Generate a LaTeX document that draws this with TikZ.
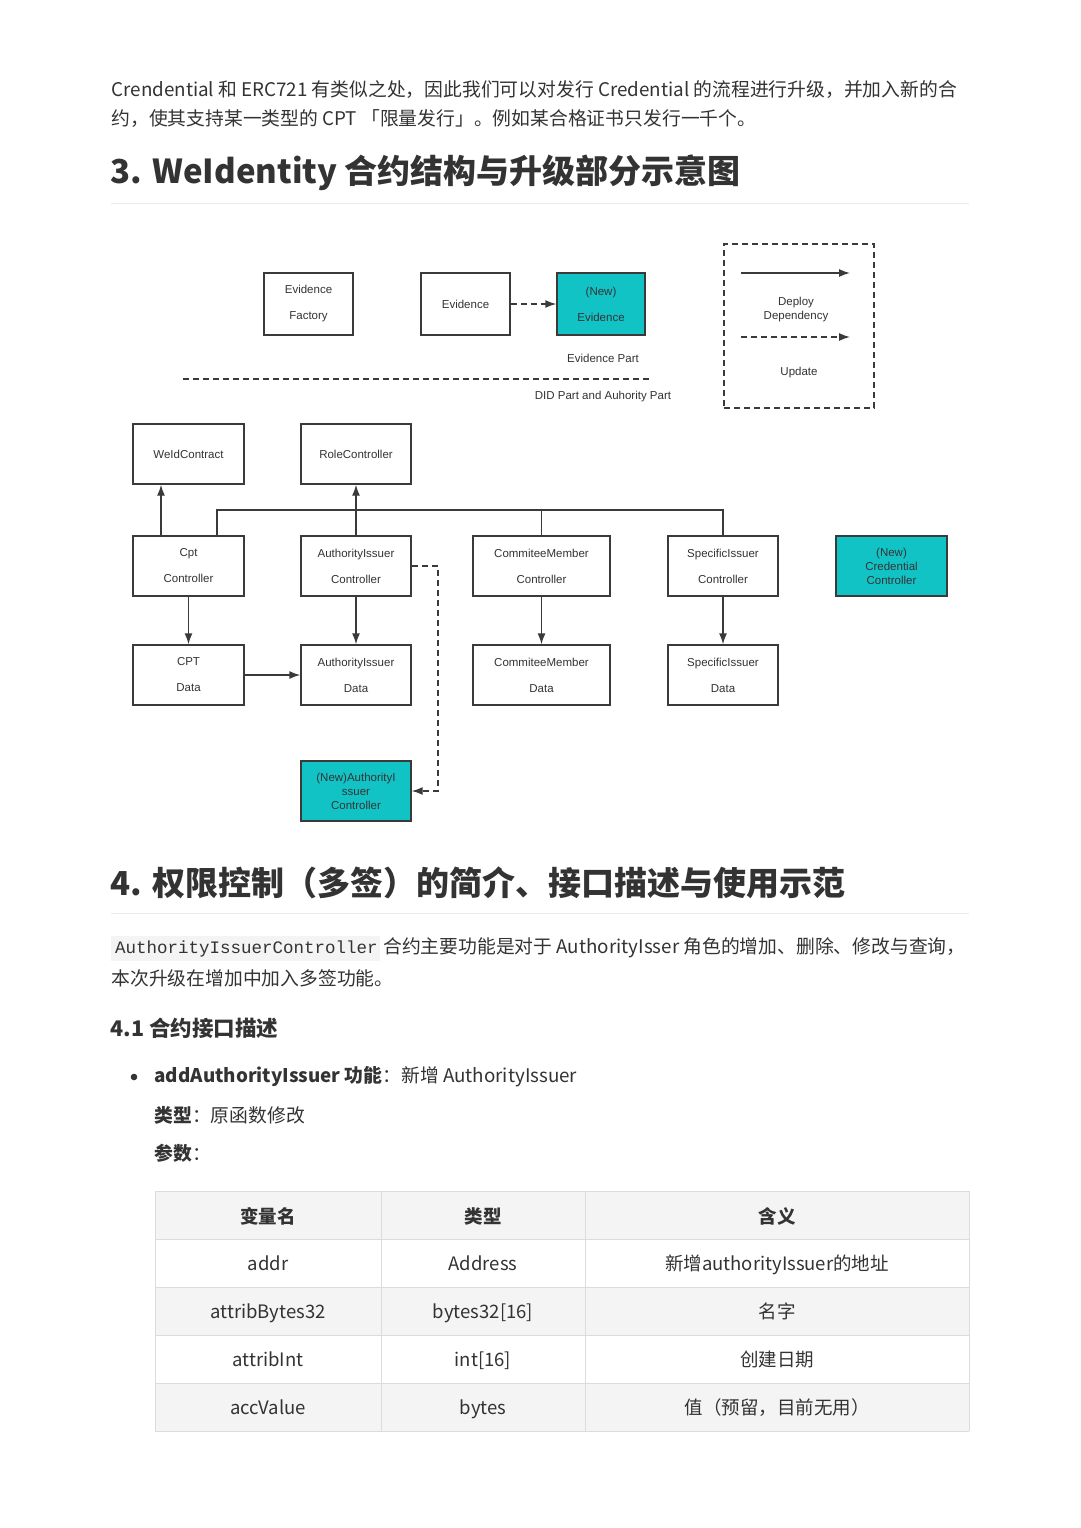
\documentclass[tikz,border=0pt]{standalone}
\usepackage{fontspec}
\setmainfont{Noto Sans CJK SC}
\newfontfamily\dg{Liberation Sans}
\newfontfamily\code{Liberation Mono}
\usetikzlibrary{arrows.meta}
\definecolor{txt}{HTML}{333333}
\definecolor{cy}{HTML}{12C3C6}
\definecolor{ln}{HTML}{3A3A3A}
\definecolor{rule}{HTML}{EAEAEA}
\definecolor{tb}{HTML}{DCDCDC}
\definecolor{sh}{HTML}{F4F4F4}
\begin{document}
\begin{tikzpicture}[x=1pt,y=-1pt,
  every node/.style={text=txt},
  body/.style={anchor=west,font=\fontsize{18.8}{20}\selectfont},
  box/.style={draw=ln,line width=1.4pt,inner sep=0pt,align=center,font=\dg\fontsize{11.5}{14}\selectfont},
  nb/.style={box,fill=cy},
  lab/.style={font=\dg\fontsize{11.5}{14}\selectfont},
  arr/.style={draw=ln,line width=1.4pt,-{Latex[length=11pt,width=8pt]}},
  dsh/.style={arr,dash pattern=on 6pt off 4pt},
  tc/.style={font=\fontsize{18.5}{20}\selectfont}]
\useasboundingbox (0,0) rectangle (1080,1528);
\fill[white] (0,0) rectangle (1080,1528);
% intro text
\node[body] (t1) at (108,90) {Crendential 和 ERC721 有类似之处，因此我们可以对发行 Credential 的流程进行升级，并加入新的合};
\node[body] (t2) at (108,119) {约，使其支持某一类型的 CPT 「限量发行」。例如某合格证书只发行一千个。};
\node[anchor=west,font=\bfseries\fontsize{33}{34}\selectfont] (h3) at (107,173) {3. WeIdentity 合约结构与升级部分示意图};
\draw[rule,line width=1pt] (111,203) -- (969,203);
% diagram
\node[box,minimum width=89pt,minimum height=62pt] (ef) at (308.5,304) {Evidence\\[12pt]Factory};
\node[box,minimum width=89pt,minimum height=62pt] (ev) at (465.5,304) {Evidence};
\node[nb,minimum width=88pt,minimum height=62pt] (ne) at (601,304) {(New)\\[12pt]Evidence};
\draw[dsh] (ev) -- (ne);
\node[lab] (ep) at (603,358) {Evidence Part};
\coordinate (dl1) at (183,379); \coordinate (dl2) at (650,379);
\draw[ln,line width=1.4pt,dash pattern=on 6pt off 4pt] (dl1) -- (dl2);
\node[lab] (dp) at (603,397) {DID Part and Auhority Part};
\node[draw=ln,line width=1.4pt,dash pattern=on 6pt off 4pt,minimum width=150pt,minimum height=164pt,inner sep=0pt] (lg) at (799,326) {};
\coordinate (la1) at (741,273); \coordinate (la2) at (850,273);
\draw[arr] (la1) -- (la2);
\node[lab,align=center] (dd) at (796,310) {Deploy\\Dependency};
\coordinate (lb1) at (741,337); \coordinate (lb2) at (850,337);
\draw[dsh] (lb1) -- (lb2);
\node[lab] (up) at (799,373) {Update};
\node[box,minimum width=111pt,minimum height=60pt] (wc) at (188.5,454) {WeIdContract};
\node[box,minimum width=110pt,minimum height=60pt] (rc) at (356,454) {RoleController};
\node[box,minimum width=111pt,minimum height=60pt] (cc) at (188.5,566) {Cpt\\[12pt]Controller};
\node[box,minimum width=110pt,minimum height=60pt] (ac) at (356,566) {AuthorityIssuer\\[12pt]Controller};
\node[box,minimum width=137pt,minimum height=60pt] (mc) at (541.5,566) {CommiteeMember\\[12pt]Controller};
\node[box,minimum width=110pt,minimum height=60pt] (sc) at (723,566) {SpecificIssuer\\[12pt]Controller};
\node[nb,minimum width=111pt,minimum height=60pt] (nc) at (891.5,566) {(New)\\Credential\\Controller};
\node[box,minimum width=111pt,minimum height=60pt] (cd) at (188.5,675) {CPT\\[12pt]Data};
\node[box,minimum width=110pt,minimum height=60pt] (ad) at (356,675) {AuthorityIssuer\\[12pt]Data};
\node[box,minimum width=137pt,minimum height=60pt] (md) at (541.5,675) {CommiteeMember\\[12pt]Data};
\node[box,minimum width=110pt,minimum height=60pt] (sd) at (723,675) {SpecificIssuer\\[12pt]Data};
\node[nb,minimum width=110pt,minimum height=60pt] (na) at (356,791) {(New)AuthorityI\\ssuer\\Controller};
\draw[arr] (cc.north -| 161,0) -- (wc.south -| 161,0);
\draw[arr] (ac) -- (rc);
\draw[ln,line width=1.4pt] (cc.north -| 217,0) |- (sc.north |- 0,510) -- (sc.north);
\draw[ln,line width=1.4pt] (mc.north) -- (mc.north |- 0,510);
\draw[arr] (cc) -- (cd);
\draw[arr] (ac) -- (ad);
\draw[arr] (mc) -- (md);
\draw[arr] (sc) -- (sd);
\draw[arr] (cd) -- (ad);
\draw[dsh] (ac.east) -- (438,566) |- (na.east);
% section 4
\node[anchor=west,font=\bfseries\fontsize{33}{34}\selectfont] (h4) at (107,883) {4. 权限控制（多签）的简介、接口描述与使用示范};
\draw[rule,line width=1pt] (111,913) -- (969,913);
\fill[sh] (111,936) rectangle (380,961);
\node[anchor=west,font=\code\fontsize{17.5}{18}\selectfont,inner sep=0pt] (cd1) at (115,949) {AuthorityIssuerController};
\node[body,inner sep=0pt] (t3) at (383,948) {合约主要功能是对于 AuthorityIsser 角色的增加、删除、修改与查询，};
\node[body] (t4) at (108,978) {本次升级在增加中加入多签功能。};
\node[anchor=west,font=\bfseries\fontsize{21.5}{24}\selectfont] (h41) at (107,1028) {4.1 合约接口描述};
\fill[txt] (134,1077) circle (3.3pt);
\node[body] (b1) at (151,1077) {\textbf{addAuthorityIssuer 功能}：新增 AuthorityIssuer};
\node[body] (b2) at (151,1115) {\textbf{类型}：原函数修改};
\node[body] (b3) at (151,1153) {\textbf{参数}：};
% table
\fill[sh] (155,1191) rectangle (969,1239);
\fill[sh] (155,1287) rectangle (969,1335);
\fill[sh] (155,1383) rectangle (969,1431);
\foreach \y in {1191,1239,1287,1335,1383,1431} \draw[tb,line width=1pt] (155,\y) -- (969,\y);
\foreach \x in {155,381,585,969} \draw[tb,line width=1pt] (\x,1191) -- (\x,1431);
\node[tc,font=\bfseries\fontsize{18.5}{20}\selectfont] (h1) at (268,1216) {变量名};
\node[tc,font=\bfseries\fontsize{18.5}{20}\selectfont] (h2) at (483,1216) {类型};
\node[tc,font=\bfseries\fontsize{18.5}{20}\selectfont] (h3c) at (777,1216) {含义};
\node[tc,anchor=base] (r11) at (268,1270) {addr};
\node[tc,anchor=base] (r12) at (483,1270) {Address};
\node[tc,anchor=base] (r13) at (777,1270) {新增authorityIssuer的地址};
\node[tc,anchor=base] (r21) at (268,1318) {attribBytes32};
\node[tc,anchor=base] (r22) at (483,1318) {bytes32[16]};
\node[tc,anchor=base] (r23) at (777,1318) {名字};
\node[tc,anchor=base] (r31) at (268,1366) {attribInt};
\node[tc,anchor=base] (r32) at (483,1366) {int[16]};
\node[tc,anchor=base] (r33) at (777,1366) {创建日期};
\node[tc,anchor=base] (r41) at (268,1414) {accValue};
\node[tc,anchor=base] (r42) at (483,1414) {bytes};
\node[tc,anchor=base] (r43) at (777,1414) {值（预留，目前无用）};
\end{tikzpicture}
\end{document}
